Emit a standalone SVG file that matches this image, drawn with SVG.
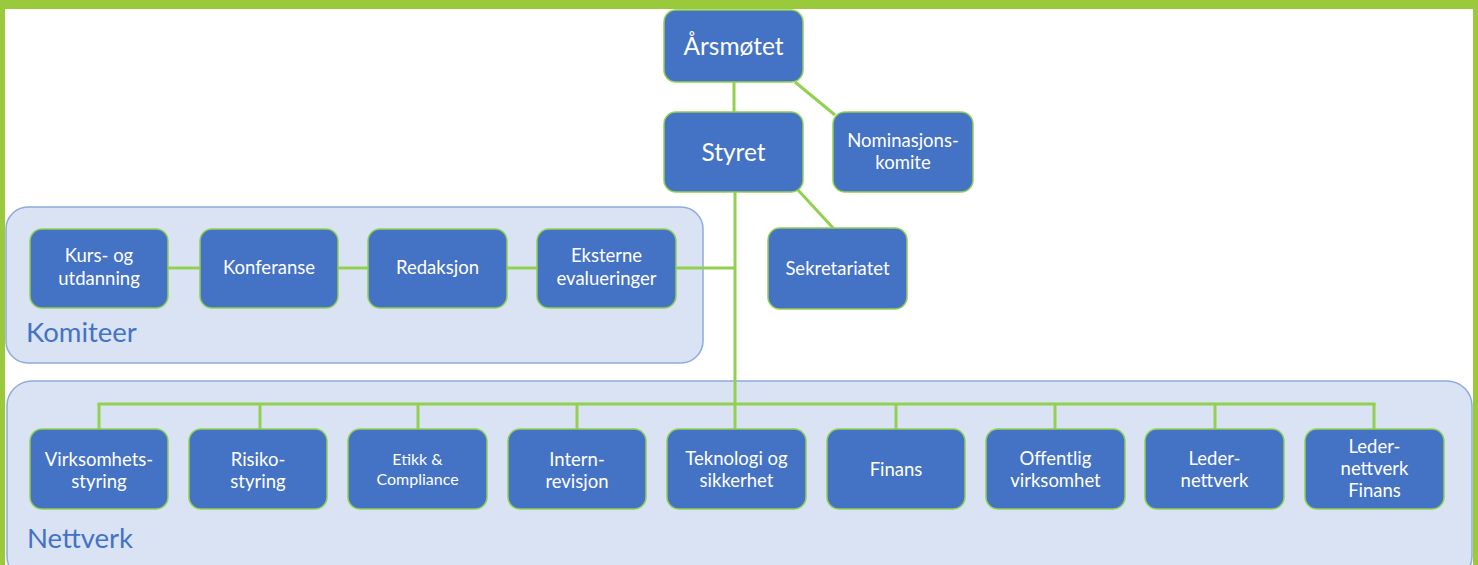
<svg xmlns="http://www.w3.org/2000/svg" width="1478" height="565" viewBox="0 0 1478 565">
<style>
.panel{fill:#DAE3F3;stroke:#8FAADC;stroke-width:1.5}
.node rect{fill:#4472C4;stroke:#92D050;stroke-width:1.5}
.node text{font-family:Lato,"Liberation Sans",sans-serif;fill:#FFFFFF;text-anchor:middle;font-size:18.5px}
.big text{font-size:24.5px}
.small text{font-size:16px}
.lbl{font-family:Lato,"Liberation Sans",sans-serif;fill:#4472C4;font-size:27.5px}
.conn line,.conn polyline{stroke:#92D050;stroke-width:3;fill:none}
</style>
<rect x="0" y="0" width="1478" height="565" fill="#FFFFFF"/>
<rect x="0" y="0" width="1478" height="9" fill="#9ACA3C"/>
<rect x="0" y="0" width="5" height="565" fill="#9ACA3C"/>
<rect x="1473" y="0" width="5" height="565" fill="#9ACA3C"/>

<g id="komiteer-panel">
<rect class="panel" x="6" y="207" width="697" height="156" rx="22"/>
<text class="lbl" x="26" y="342">Komiteer</text>
</g>
<g id="nettverk-panel">
<rect class="panel" x="7" y="381" width="1465" height="200" rx="25"/>
<text class="lbl" x="27" y="548">Nettverk</text>
</g>

<g class="conn" id="connectors">
<line x1="734" y1="82" x2="734" y2="112"/>
<line x1="795" y1="82" x2="835" y2="115"/>
<line x1="798" y1="190" x2="834" y2="229"/>
<line x1="735" y1="192" x2="735" y2="429"/>
<line x1="168" y1="268" x2="200" y2="268"/>
<line x1="338" y1="268" x2="368" y2="268"/>
<line x1="507" y1="268" x2="537" y2="268"/>
<line x1="676" y1="268" x2="735" y2="268"/>
<line x1="97.5" y1="404" x2="1375.5" y2="404"/>
<line x1="99" y1="404" x2="99" y2="429"/>
<line x1="260" y1="404" x2="260" y2="429"/>
<line x1="418" y1="404" x2="418" y2="429"/>
<line x1="577" y1="404" x2="577" y2="429"/>
<line x1="896" y1="404" x2="896" y2="429"/>
<line x1="1055" y1="404" x2="1055" y2="429"/>
<line x1="1215" y1="404" x2="1215" y2="429"/>
<line x1="1374" y1="404" x2="1374" y2="429"/>
</g>

<g id="arsmotet" class="node big"><rect x="664" y="10" width="139" height="72" rx="12"/><text x="733.5" y="55">Årsmøtet</text></g>
<g id="styret" class="node big"><rect x="664" y="112" width="139" height="80" rx="12"/><text x="733.5" y="161">Styret</text></g>
<g id="nominasjonskomite" class="node"><rect x="833" y="112" width="140" height="80" rx="12"/><text x="903" y="147">Nominasjons-</text><text x="903" y="169">komite</text></g>
<g id="sekretariatet" class="node"><rect x="768" y="228" width="139" height="81" rx="12"/><text x="837.5" y="275">Sekretariatet</text></g>

<g id="kurs" class="node"><rect x="30" y="229" width="138" height="79" rx="12"/><text x="99" y="262">Kurs- og</text><text x="99" y="285">utdanning</text></g>
<g id="konferanse" class="node"><rect x="200" y="229" width="138" height="79" rx="12"/><text x="269" y="274">Konferanse</text></g>
<g id="redaksjon" class="node"><rect x="368" y="229" width="139" height="79" rx="12"/><text x="437.5" y="274">Redaksjon</text></g>
<g id="eksterne" class="node"><rect x="537" y="229" width="139" height="79" rx="12"/><text x="606.5" y="262">Eksterne</text><text x="606.5" y="285">evalueringer</text></g>

<g id="virksomhetsstyring" class="node"><rect x="30" y="429" width="138" height="80" rx="12"/><text x="99" y="466">Virksomhets-</text><text x="99" y="488">styring</text></g>
<g id="risikostyring" class="node"><rect x="189" y="429" width="138" height="80" rx="12"/><text x="258" y="466">Risiko-</text><text x="258" y="488">styring</text></g>
<g id="etikk" class="node small"><rect x="348" y="429" width="139" height="80" rx="12"/><text x="417.5" y="465">Etikk &amp;</text><text x="417.5" y="485">Compliance</text></g>
<g id="internrevisjon" class="node"><rect x="508" y="429" width="138" height="80" rx="12"/><text x="577" y="466">Intern-</text><text x="577" y="488">revisjon</text></g>
<g id="teknologi" class="node"><rect x="667" y="429" width="139" height="80" rx="12"/><text x="736.5" y="465">Teknologi og</text><text x="736.5" y="487">sikkerhet</text></g>
<g id="finans" class="node"><rect x="827" y="429" width="138" height="80" rx="12"/><text x="896" y="476">Finans</text></g>
<g id="offentlig" class="node"><rect x="986" y="429" width="139" height="80" rx="12"/><text x="1055.5" y="465">Offentlig</text><text x="1055.5" y="487">virksomhet</text></g>
<g id="ledernettverk" class="node"><rect x="1145" y="429" width="139" height="80" rx="12"/><text x="1214.5" y="465">Leder-</text><text x="1214.5" y="487">nettverk</text></g>
<g id="ledernettverk-finans" class="node"><rect x="1305" y="429" width="139" height="80" rx="12"/><text x="1374.5" y="453">Leder-</text><text x="1374.5" y="475">nettverk</text><text x="1374.5" y="497">Finans</text></g>
</svg>
